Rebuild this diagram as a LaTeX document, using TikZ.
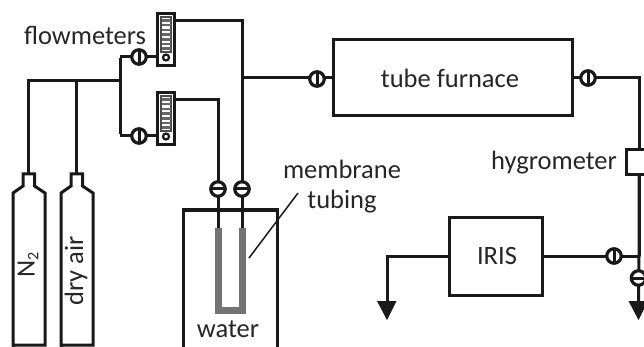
\documentclass[tikz,border=0pt]{standalone}
\usepackage{fontspec}
\setmainfont{Carlito}
\begin{document}
\begin{tikzpicture}[x=1pt,y=-1pt,
  line width=3pt,
  every node/.style={inner sep=0pt,outer sep=0pt},
  pipe/.style={draw=black!90,line width=3pt,line cap=butt,line join=miter},
  txt/.style={font=\fontsize{26.5}{30}\selectfont,text=black!85,align=center},
  boxx/.style={draw=black!90,line width=3pt,fill=white,rectangle},
  valvev/.style={circle,draw=black!90,line width=3.2pt,fill=white,minimum size=14.5pt,
    path picture={\draw[black!90,line width=3pt] (path picture bounding box.north) -- (path picture bounding box.south);}},
  valveh/.style={circle,draw=black!90,line width=3.2pt,fill=white,minimum size=14.5pt,
    path picture={\draw[black!90,line width=3pt] (path picture bounding box.west) -- (path picture bounding box.east);}},
  ahead/.style={fill=black!90,draw=none},
]
\useasboundingbox (0,0) rectangle (644,347);
% coordinates
\coordinate (j0) at (120,81);
\coordinate (c1top) at (28.5,173);
\coordinate (c2top) at (76.5,173);
\coordinate (b1) at (120,57);
\coordinate (b2) at (120,136);
\coordinate (a1) at (28.5,81);
\coordinate (a2) at (76.5,81);
\coordinate (f1out) at (175,21);
\coordinate (f2out) at (175,100);
\coordinate (r1) at (242,21);
\coordinate (r2) at (218,100);
\coordinate (j1) at (242,78);
\coordinate (e1) at (639,78);
\coordinate (e2) at (639,256);
\coordinate (tipL) at (387,302);
\coordinate (tipR) at (638.5,302);
\coordinate (cornerL) at (387,256);
\coordinate (ul) at (218,228);
\coordinate (ur) at (242,228);
% water box and tube
\node[boxx,minimum width=94pt,minimum height=142pt] (bath) at (230,281) {};
\draw[black!55,line width=7pt,line join=miter] (218,228) -- (218,310) -- (242,310) -- (242,228);
% pipes
\draw[pipe] (a1) -- (c1top);
\draw[pipe] (a2) -- (c2top);
\draw[pipe] ([xshift=-1.5pt]a1) -- (j0);
\draw[pipe] ([yshift=-1.5pt]b1) -- ([yshift=1.5pt]b2);
\draw[pipe] ([xshift=1.5pt]r1) -- (f1out);
\draw[pipe] ([yshift=-1.5pt]r1) -- (ur);
\draw[pipe] ([xshift=1.5pt]r2) -- (f2out);
\draw[pipe] ([yshift=-1.5pt]r2) -- (ul);
% cylinders
\draw[draw=black!90,line width=3pt,fill=white,line join=miter] (13,347) -- (13,193) -- (23,186) -- (23,174) -- (34.5,174) -- (34.5,186) -- (45,193) -- (45,345) -- (13,345);
\draw[draw=black!90,line width=3pt,fill=white,line join=miter] (61,347) -- (61,193) -- (71,186) -- (71,174) -- (82.5,174) -- (82.5,186) -- (93,193) -- (93,345) -- (61,345);
\node[txt,rotate=90] (n2) at (28,265) {N\raisebox{-0.3ex}{\fontsize{16}{16}\selectfont 2}};
\node[txt,rotate=90] (dry) at (76,271) {dry air};
% flowmeters
\node[draw=black!90,line width=3pt,fill=white,minimum width=17pt,minimum height=52pt] (fm1) at (166,39.5) {};
\node[draw=black!90,line width=3pt,fill=white,minimum width=17pt,minimum height=52pt] (fm2) at (166,118.5) {};
\foreach \yy in {0,79}{
  \draw[black!70,line width=1.2pt,fill=white] (161,{17+\yy}) rectangle (171,{52+\yy});
  \foreach \k in {0,1,...,6}{\draw[black!60,line width=2.6pt] (161.5,{20.5+\k*4.7+\yy}) -- (170.5,{20.5+\k*4.7+\yy});}
  \draw[black!90,line width=2.2pt] (166,{57.5+\yy}) circle (3pt);
}
% valves
\node[valvev] (v1) at (139,57) {};
\node[valvev] (v2) at (139,136) {};
\draw[pipe] (b1) -- (v1);
\draw[pipe] (v1) -- (fm1.west |- v1);
\draw[pipe] (b2) -- (v2);
\draw[pipe] (v2) -- (fm2.west |- v2);
\node[valveh] (v3) at (218,189) {};
\node[valveh] (v4) at (242,189) {};
% main line
\node[boxx,minimum width=239pt,minimum height=76pt] (furn) at (452.5,78) {};
\node[txt] (furnt) at (450,78) {tube furnace};
\draw[pipe] (j1) -- (furn);
\node[valvev] (v5) at (317,79) {};
\node[valvev] (v6) at (588,78) {};
\draw[pipe] (furn.east) -- (v6);
\draw[pipe] (v6) -- ([xshift=1.5pt]e1);
\draw[pipe] (e1) -- (e2);
\node[boxx,minimum width=30pt,minimum height=25pt] (hyg) at (641,162.5) {};
\draw[pipe] (e1) -- (hyg.north -| e1);
\draw[pipe] (hyg.south -| e1) -- (e2) -- (tipR);
\node[txt] (hygt) at (554,163) {hygrometer};
% IRIS
\node[boxx,minimum width=93pt,minimum height=78pt] (iris) at (495.5,256) {};
\node[txt] (irist) at (497,256) {IRIS};
\draw[pipe] (iris.east) -- (e2);
\node[valvev] (v7) at (614,256) {};
\node[valveh] (v8) at (638.5,278) {};
\draw[pipe] (iris.west) -- ([xshift=-1.5pt]cornerL);
\draw[pipe] (cornerL) -- (tipL);
\fill[ahead] (377,301) -- (396.5,301) -- (387,320) -- cycle;
\fill[ahead] (628.5,301) -- (648,301) -- (638.5,320) -- cycle;
% labels
\node[txt] (fl) at (85,35.5) {flowmeters};
\node[txt] (mem) at (342,187) {membrane\\[0pt]tubing};
\node[txt] (wat) at (228,329) {water};
\coordinate (l1) at (298,193);
\coordinate (l2) at (249,258);
\draw[black!90,line width=1.5pt] (l1) -- (l2);
\end{tikzpicture}
\end{document}
